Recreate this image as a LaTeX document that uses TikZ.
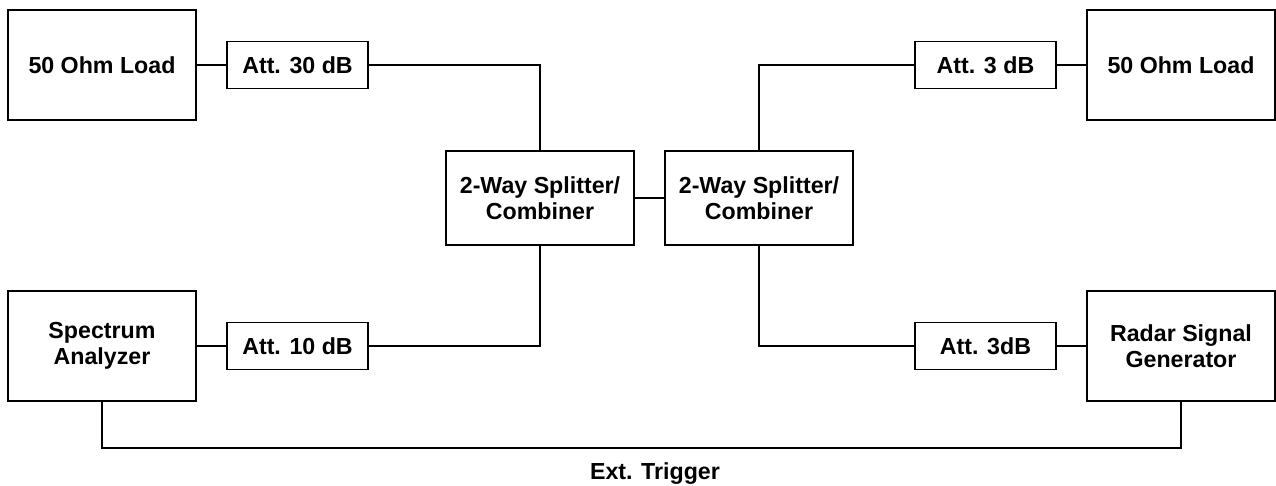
\documentclass[tikz,border=0pt]{standalone}
\usepackage{fontspec}
\setmainfont{Liberation Sans}
\begin{document}
\begin{tikzpicture}[x=0.5pt,y=-0.5pt,
  box/.style={draw,line width=0.75pt,inner sep=0pt,align=center,font=\fontsize{11.6}{13}\selectfont\bfseries},
  bigbox/.style={box,minimum width=94pt,minimum height=55pt},
  attbox/.style={box,minimum width=70.5pt,minimum height=23.5pt},
  splbox/.style={box,minimum width=94pt,minimum height=47pt},
  wire/.style={line width=0.75pt},
  lbl/.style={inner sep=0pt,font=\fontsize{11.6}{13}\selectfont\bfseries}]
\useasboundingbox (0,0) rectangle (1276,486);
\node[bigbox] (loadL) at (102,65) {50 Ohm Load};
\node[attbox] (att30) at (297.5,65) {Att. 30 dB};
\node[splbox] (splL) at (540,198) {2-Way Splitter/\\Combiner};
\node[splbox] (splR) at (759,198) {2-Way Splitter/\\Combiner};
\node[attbox] (att3a) at (985.5,65) {Att. 3 dB};
\node[bigbox] (loadR) at (1181,65) {50 Ohm Load};
\node[bigbox] (spec) at (102,346) {Spectrum\\Analyzer};
\node[attbox] (att10) at (297.5,346) {Att. 10 dB};
\node[attbox] (att3b) at (985.5,346) {Att. 3dB};
\node[bigbox] (radar) at (1181,346) {Radar Signal\\Generator};
\coordinate (trig) at (642,448);
\node[lbl,anchor=base] (trlbl) at (655,480) {Ext. Trigger};
\draw[wire] (loadL.east) -- (att30.west);
\draw[wire] (att30.east) -| (splL.north);
\draw[wire] (spec.east) -- (att10.west);
\draw[wire] (att10.east) -| (splL.south);
\draw[wire] (splL.east) -- (splR.west);
\draw[wire] (splR.north) |- (att3a.west);
\draw[wire] (splR.south) |- (att3b.west);
\draw[wire] (att3a.east) -- (loadR.west);
\draw[wire] (att3b.east) -- (radar.west);
\draw[wire] (spec.south) |- (trig) -| (radar.south);
\end{tikzpicture}
\end{document}
